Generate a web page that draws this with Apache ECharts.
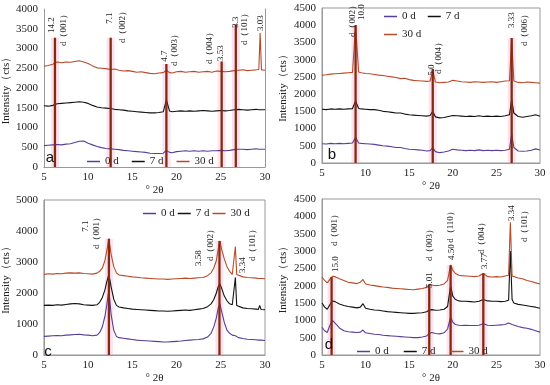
<!DOCTYPE html>
<html><head><meta charset="utf-8">
<script src="https://cdn.jsdelivr.net/npm/echarts@6/dist/echarts.min.js"></script>
<style>html,body{margin:0;padding:0;background:#fff}#c{width:550px;height:385px}</style>
</head><body><div id="c"></div>
<script>
// ---------- Panel a ----------
const xa=[5,5.5,6,6.5,7,7.5,8,8.5,9,9.5,10,10.5,11,11.5,12,12.5,13,13.5,14,14.5,15,15.5,16,16.5,17,17.5,18,18.5,18.85,19.2,19.5,20,20.5,21,21.5,22,22.5,23,23.5,24,24.5,25,25.5,26,26.5,27,27.5,28,28.5,29,29.3,29.45,29.6,30];
const a30=[2550,2570,2600,2660,2640,2660,2650,2670,2690,2660, 2620,2560,2510,2500,2490,2470,2480,2450,2430,2440, 2420,2400,2410,2390,2370,2360,2380,2390,2450,2390, 2380,2410,2420,2400,2410,2420,2400,2410,2420,2400, 2430,2420,2410,2420,2440,2450,2460,2440,2450,2460, 2470,3390,2460,2450];
const a7=[1550,1540,1560,1600,1610,1620,1630,1640,1650,1640, 1610,1560,1520,1500,1490,1480,1460,1450,1440,1420, 1410,1400,1390,1380,1370,1370,1380,1400,1700,1420, 1400,1410,1420,1410,1420,1410,1420,1430,1420,1410, 1420,1430,1420,1430,1450,1460,1450,1440,1450,1460, 1450,1470,1450,1450];
const a0=[540,550,560,570,560,580,590,620,650,660, 600,560,520,490,470,460,450,440,420,410, 400,390,380,370,350,340,340,350,420,370, 360,390,400,410,400,410,400,410,400,410, 410,420,410,420,440,450,450,440,450,460, 450,460,450,450];
const peaksAx=[6.25,12.55,18.85,25.1,26.7];
const peaksAtop=[3270,3270,2610,2670,3600];

// ---------- Panel b ----------
const xb=[5,5.5,6,6.5,7,7.5,8,8.5,8.85,9.2,9.5,10,10.5,11,11.5,12,12.5,13,13.5,14,14.5,15,15.5,16,16.5,17,17.4,17.7,18,18.5,19,19.5,20,20.5,21,21.5,22,22.5,23,23.5,24,24.5,25,25.5,26,26.5,26.75,27,27.5,28,28.5,29,29.5,30];
const b30=[2550,2560,2580,2590,2600,2610,2620,2630,4000,2640, 2620,2600,2590,2570,2550,2540,2520,2500,2480,2450, 2460,2420,2400,2390,2380,2370,2380,2700,2350,2330, 2340,2350,2400,2380,2360,2350,2340,2360,2350,2340, 2350,2360,2340,2360,2380,2390,3620,2380,2340,2330, 2350,2340,2330,2320];
const b7=[1560,1550,1570,1560,1570,1560,1570,1580,1800,1580, 1570,1560,1550,1550,1530,1500,1490,1470,1450,1450, 1420,1400,1390,1380,1370,1360,1380,1500,1340,1310, 1320,1350,1380,1370,1360,1350,1360,1350,1370,1350, 1360,1350,1360,1350,1370,1400,1850,1450,1350,1330, 1350,1370,1400,1360];
const b0=[560,550,570,560,570,560,570,580,750,580, 570,560,550,540,520,500,490,470,450,450, 420,400,390,380,370,350,360,450,330,300, 320,350,400,380,370,360,370,360,380,360, 370,360,370,360,370,400,850,450,350,340, 350,370,410,380];
const peaksBx=[8.85,17.7,26.75];
const peaksBtop=[4000,2730,3630];

// ---------- Panel c ----------
const xc=[5,5.5,6,6.5,7,7.5,8,8.5,9,9.5,10,10.5,11,11.3,11.6,11.9,12.1,12.35,12.6,12.9,13.2,13.5,14,14.5,15,15.5,16,16.5,17,17.5,18,18.5,19,19.5,20,20.5,21,21.5,22,22.5,23,23.5,23.9,24.2,24.5,24.7,24.9,25.1,25.4,25.7,26,26.3,26.5,26.65,26.8,27,27.5,28,28.5,29,29.25,29.4,29.55,30];
const c30=[2600,2620,2610,2630,2620,2640,2650,2640,2650,2630,2620,2610,2640, 2700,2800,3050,3350,3750,3250,2850,2650, 2580,2560,2540,2520,2510,2490,2480,2470,2460,2450,2450,2440,2450,2460,2470,2480,2470,2480,2490,2500,2560, 2650,2800,3050,3400,3680,3400,3100,2850,2700,2600,2580,3500,2600, 2550,2520,2500,2490,2480,2470,2490,2470,2460];
const c7=[1600,1610,1600,1620,1610,1630,1650,1660,1650,1620,1610,1600,1620, 1700,1850,2100,2350,2600,2200,1800,1600, 1550,1520,1500,1480,1470,1460,1450,1440,1430,1420,1420,1410,1420,1430,1440,1450,1440,1460,1480,1500,1560, 1650,1780,2000,2200,2300,2150,1900,1750,1650,1620,1600,2500,1600, 1560,1520,1500,1490,1480,1470,1600,1470,1460];
const c0=[600,610,620,630,620,640,650,660,670,650,640,620,640, 720,900,1250,1600,2100,1300,800,600, 560,540,520,500,480,470,460,450,440,430,420,420,430,440,450,470,480,490,500,520,580, 700,900,1200,1500,1650,1400,1050,800,700,640,600,620,590, 560,530,510,500,490,480,500,480,470];
const peaksCx=[12.35,24.85];
const peaksCtop=[3750,3680];

// ---------- Panel d ----------
const xd=[5,5.3,5.6,5.9,6.2,6.5,7,7.5,8,8.5,9,9.4,9.7,10,10.5,11,11.5,12,12.5,13,13.5,14,14.5,15,15.5,16,16.5,17,17.3,17.6,18,18.5,19,19.4,19.75,20,20.3,20.7,21,21.5,22,22.5,23,23.5,24,24.5,25,25.5,26,26.4,26.6,26.8,27,27.5,28,28.5,29,29.5,30];
const d30=[2250,2150,2080,2180,2270,2260, 2200,2150,2100,2080,2060, 2100,2180, 2050,2020,2000,1980,1960,1950,1930,1920,1910,1900,1890,1880,1900,1920,1950, 2030,2020, 2000,2010,2050, 2150,2600, 2450,2350,2300, 2290,2280,2270,2260,2280,2350,2260,2250,2260,2250,2280, 2300,3830,2280, 2250,2220,2200,2150,2120,2080,2050];
const d7=[1500,1380,1320,1450,1560,1540, 1470,1430,1400,1380,1360, 1380,1480, 1350,1320,1300,1290,1270,1250,1240,1230,1220,1210,1200,1200,1210,1220,1250, 1300,1310, 1290,1300,1320, 1400,2000, 1700,1600,1560, 1550,1550,1540,1530,1550,1600,1560,1550,1550,1540,1550, 1580,3000,1600, 1500,1460,1440,1420,1400,1380,1350];
const d0=[800,700,650,850,1000,920, 780,700,670,660,650, 660,720, 640,620,600,590,570,560,550,540,530,520,510,500,500,520,550, 620,650, 620,610,640, 750,1100, 950,880,860, 850,860,850,850,860,900,860,850,860,870,880, 920,900,880, 850,820,790,770,740,700,660];
const peaksDx=[6.1,17.3,19.75,23.5];
const peaksDtop=[2250,2030,2590,2360];

// ---------- Labels ----------
const seriesNames=['0 d','7 d','30 d'];
const xTicks=[5,10,15,20,25,30];
const yMax=[4000,4500,5000,4500];
const yStep=[500,500,1000,500];
const panelLetters=['a','b','c','d'];
const yName='Intensity（cts）';
const xName='° 2θ';
const annotations=[
 ['14.2',52,25],['d（001）',64,28],['7.1',110,18],['d（002）',123,25],['4.7',165,56],['d（003）',175,48],
 ['d（004）',210,46],['3.53',221,53],['3.3',236,22],['d（101）',245,27],['3.03',261,23],
 ['d（002）',353,19],['10.0',362,12],['5.0',432,70],['d（004）',439,56],['3.33',512,20],['d（006）',525,28],
 ['7.1',86,226],['d（001）',97,231],['3.58',199,258],['d（002）',211,243],['3.34',243,265],['d（101）',253,243],
 ['d（001）',335,228],['15.0',336,264],['d（003）',430,243],['5.01',430,280],['d（110）',451,225],['4.50',452,252],
 ['d（004）',482,236],['3.77',485,261],['3.34',512,213],['d（101）',525,224]
];

// ---------- Build ----------
const SERIF='"Liberation Serif","DejaVu Serif",serif';
const colors={'0 d':'#5a3c9c','7 d':'#111111','30 d':'#b84a28'};
const panels=[
 {x:xa,s:[a0,a7,a30],px:peaksAx,pt:peaksAtop},
 {x:xb,s:[b0,b7,b30],px:peaksBx,pt:peaksBtop},
 {x:xc,s:[c0,c7,c30],px:peaksCx,pt:peaksCtop},
 {x:xd,s:[d0,d7,d30],px:peaksDx,pt:peaksDtop}
];
const grids=[
 {left:42,top:9,width:223,height:158,show:false},
 {left:322,top:8,width:218,height:155,show:true,borderColor:'#999',borderWidth:1},
 {left:42,top:200,width:223,height:158,show:true,borderColor:'#999',borderWidth:1},
 {left:322,top:199,width:218,height:162,show:true,borderColor:'#999',borderWidth:1}
];
const plain=v=>String(v);
const xAxes=[],yAxes=[],series=[];
panels.forEach((p,g)=>{
  xAxes.push({type:'value',gridIndex:g,min:xTicks[0],max:xTicks[xTicks.length-1],interval:5,
    name:xName,nameLocation:'middle',nameGap:18,nameTextStyle:{fontFamily:SERIF,fontSize:11,color:'#222'},
    axisLine:{show:true,lineStyle:{color:'#999'}},axisTick:{show:false},splitLine:{show:false},
    axisLabel:{fontFamily:SERIF,fontSize:11,color:'#222',margin:5,formatter:plain}});
  yAxes.push({type:'value',gridIndex:g,min:0,max:yMax[g],interval:yStep[g],
    name:yName,nameLocation:'middle',nameGap:g%2===0?31:33,nameTextStyle:{fontFamily:SERIF,fontSize:11,color:'#222'},
    axisLine:{show:true,lineStyle:{color:'#999'}},axisTick:{show:false},splitLine:{show:false},
    axisLabel:{fontFamily:SERIF,fontSize:11,color:'#222',margin:6,formatter:plain}});
  p.s.forEach((arr,k)=>{
    series.push({type:'line',name:seriesNames[k],xAxisIndex:g,yAxisIndex:g,
      data:p.x.map((x,i)=>[x,arr[i]]),showSymbol:false,symbol:'none',
      lineStyle:{width:1.1,color:colors[seriesNames[k]]},itemStyle:{color:colors[seriesNames[k]]},z:2});
  });
  p.px.forEach((x,i)=>{
    series.push({type:'line',name:'glow'+g+'_'+i,xAxisIndex:g,yAxisIndex:g,data:[[x,0],[x,p.pt[i]]],
      symbol:'none',lineStyle:{width:8,color:'rgba(255,130,185,0.25)'},z:1});
    series.push({type:'line',name:'peak'+g+'_'+i,xAxisIndex:g,yAxisIndex:g,data:[[x,0],[x,p.pt[i]]],
      symbol:'none',lineStyle:{width:2.3,color:'#7e2c12'},z:3});
  });
});
// right border for panel a
yAxes.push({type:'value',gridIndex:0,position:'right',min:0,max:yMax[0],interval:yStep[0],
  axisLine:{show:true,lineStyle:{color:'#999'}},axisTick:{show:false},axisLabel:{show:false},splitLine:{show:false}});

const legendBase={icon:'rect',itemWidth:13,itemHeight:1.5,itemGap:13,textStyle:{fontFamily:SERIF,fontSize:11,color:'#222'},selectedMode:false,padding:0};
const legends=[
 Object.assign({},legendBase,{left:87,top:156,data:seriesNames}),
 Object.assign({},legendBase,{left:384,top:11,data:['0 d','7 d'],itemGap:12}),
 Object.assign({},legendBase,{left:384,top:29,data:['30 d']}),
 Object.assign({},legendBase,{left:143,top:208,data:seriesNames,itemGap:3}),
 Object.assign({},legendBase,{left:357,top:346,data:seriesNames,itemGap:15})
];

const graphics=[];
annotations.forEach(a=>{
  graphics.push({type:'text',x:a[1],y:a[2],rotation:Math.PI/2,z:10,
    style:{text:a[0],fontFamily:SERIF,fontSize:9,fill:'#222',align:'center',verticalAlign:'middle'}});
});
const letterPos=[[50,158],[332,155],[48,352],[329,345]];
panelLetters.forEach((t,i)=>{
  graphics.push({type:'text',x:letterPos[i][0],y:letterPos[i][1],z:10,
    style:{text:t,fontFamily:'"Liberation Sans",Arial,sans-serif',fontSize:15,fill:'#111',align:'center',verticalAlign:'middle'}});
});

const chart=echarts.init(document.getElementById('c'),null,{renderer:'canvas'});
chart.setOption({animation:false,backgroundColor:'#fff',grid:grids,xAxis:xAxes,yAxis:yAxes,series:series,legend:legends,graphic:graphics});
</script></body></html>
